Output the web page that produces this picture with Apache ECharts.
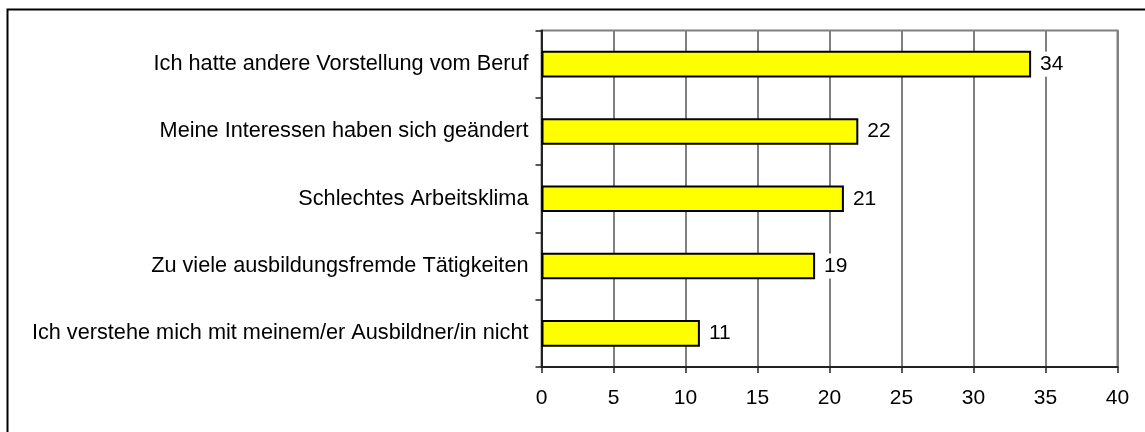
<!DOCTYPE html>
<html><head><meta charset="utf-8">
<script src="https://cdn.jsdelivr.net/npm/echarts@6/dist/echarts.min.js"></script>
<style>html,body{margin:0;padding:0;background:#fff;}#c{width:1145px;height:432px;}</style>
</head><body><div id="c"></div>
<script>
const categories = [
  "Ich hatte andere Vorstellung vom Beruf",
  "Meine Interessen haben sich geändert",
  "Schlechtes Arbeitsklima",
  "Zu viele ausbildungsfremde Tätigkeiten",
  "Ich verstehe mich mit meinem/er Ausbildner/in nicht"
];
const values = [34, 22, 21, 19, 11];
const xTicks = [0, 5, 10, 15, 20, 25, 30, 35, 40];

const chart = echarts.init(document.getElementById('c'), null, {renderer: 'canvas'});
const font = "'Liberation Sans', Arial, sans-serif";
chart.setOption({
  animation: false,
  graphic: [{
    type: 'rect', silent: true, z: -10,
    shape: {x: 7.5, y: 9.5, width: 1300, height: 600},
    style: {fill: 'none', stroke: '#000', lineWidth: 2}
  }],
  grid: {left: 541.5, right: 27.5, top: 30.5, bottom: 65, show: true, borderColor: '#808080', borderWidth: 2, backgroundColor: 'transparent'},
  xAxis: {
    type: 'value', min: xTicks[0], max: xTicks[xTicks.length - 1], interval: 5,
    axisLine: {show: true, lineStyle: {color: '#222', width: 2}},
    axisTick: {show: true, length: 6, lineStyle: {color: '#222', width: 1.5}},
    axisLabel: {color: '#000', fontSize: 21, fontFamily: font, margin: 21},
    splitLine: {show: true, lineStyle: {color: '#808080', width: 2}}
  },
  yAxis: {
    type: 'category', data: categories, inverse: true,
    axisLine: {show: true, lineStyle: {color: '#222', width: 2}},
    axisTick: {show: true, length: 6, lineStyle: {color: '#222', width: 1.5}},
    axisLabel: {color: '#000', fontSize: 21.7, fontFamily: font, margin: 13},
    splitLine: {show: false}
  },
  series: [{
    type: 'bar', data: values, barWidth: '39.5%',
    itemStyle: {color: '#FFFF00', borderColor: '#000', borderWidth: 2},
    label: {show: true, position: 'right', distance: 7, color: '#000', fontSize: 21, fontFamily: font,
            backgroundColor: '#fff', padding: [2, 2, 2, 2]}
  }]
});
</script></body></html>
